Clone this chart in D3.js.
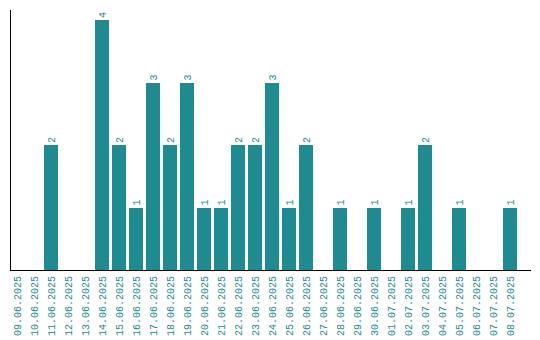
<!DOCTYPE html>
<html lang="en">
    <head>
        <meta charset="utf-8">
        <title>Daily counts</title>
        <script type="text/javascript" src="https://cdn.jsdelivr.net/npm/d3@7"></script>
        <style>
            body { margin: 0; background: #fff; }
        </style>
    </head>
    <body>
        <script type="text/javascript">

            var dates = ["09.06.2025", "10.06.2025", "11.06.2025", "12.06.2025", "13.06.2025",
                         "14.06.2025", "15.06.2025", "16.06.2025", "17.06.2025", "18.06.2025",
                         "19.06.2025", "20.06.2025", "21.06.2025", "22.06.2025", "23.06.2025",
                         "24.06.2025", "25.06.2025", "26.06.2025", "27.06.2025", "28.06.2025",
                         "29.06.2025", "30.06.2025", "01.07.2025", "02.07.2025", "03.07.2025",
                         "04.07.2025", "05.07.2025", "06.07.2025", "07.07.2025", "08.07.2025"];
            var counts = [0, 0, 2, 0, 0, 4, 2, 1, 3, 2,
                          3, 1, 1, 2, 2, 3, 1, 2, 0, 1,
                          0, 1, 0, 1, 2, 0, 1, 0, 0, 1];

            var w = 540;
            var h = 340;
            var color = "#1e8b90";
            var font = "'Liberation Mono', monospace";

            var data = dates.map(function(d, i) { return {date: d, value: counts[i]}; });

            var svg = d3.select("body")
                .append("svg")
                .attr("width", w)
                .attr("height", h);

            var x = d3.scaleBand()
                .domain(dates)
                .range([8.5, 518.5])
                .paddingInner(3 / 17)
                .paddingOuter(1.5 / 17);

            var y = d3.scaleLinear()
                .domain([0, 4])
                .range([270, 20]);

            svg.selectAll("rect")
                .data(data.filter(function(d) { return d.value > 0; }))
                .enter()
                .append("rect")
                .attr("x", function(d) { return x(d.date); })
                .attr("y", function(d) { return y(d.value); })
                .attr("width", x.bandwidth())
                .attr("height", function(d) { return y(0) - y(d.value); })
                .attr("fill", color)
                .attr("shape-rendering", "crispEdges");

            // value labels above bars
            svg.selectAll("text.val")
                .data(data.filter(function(d) { return d.value > 0; }))
                .enter()
                .append("text")
                .attr("class", "val")
                .text(function(d) { return d.value; })
                .attr("transform", function(d) {
                    return "translate(" + (x(d.date) + x.bandwidth() / 2) + "," + (y(d.value) - 2) + ") rotate(-90)";
                })
                .attr("dy", "0.35em")
                .attr("font-family", font)
                .attr("font-size", 10)
                .attr("fill", color);

            // date labels
            svg.selectAll("text.date")
                .data(data)
                .enter()
                .append("text")
                .attr("class", "date")
                .text(function(d) { return d.date; })
                .attr("transform", function(d) {
                    return "translate(" + (x(d.date) + x.bandwidth() / 2) + ",276) rotate(-90)";
                })
                .attr("dy", "0.35em")
                .attr("text-anchor", "end")
                .attr("font-family", font)
                .attr("font-size", 10)
                .attr("fill", color);

            // axes lines
            svg.append("line")
                .attr("x1", 10.5).attr("x2", 10.5)
                .attr("y1", 10).attr("y2", 270)
                .attr("stroke", "#000");
            svg.append("line")
                .attr("x1", 10).attr("x2", 531)
                .attr("y1", 270.5).attr("y2", 270.5)
                .attr("stroke", "#000");

        </script>
    </body>
</html>
